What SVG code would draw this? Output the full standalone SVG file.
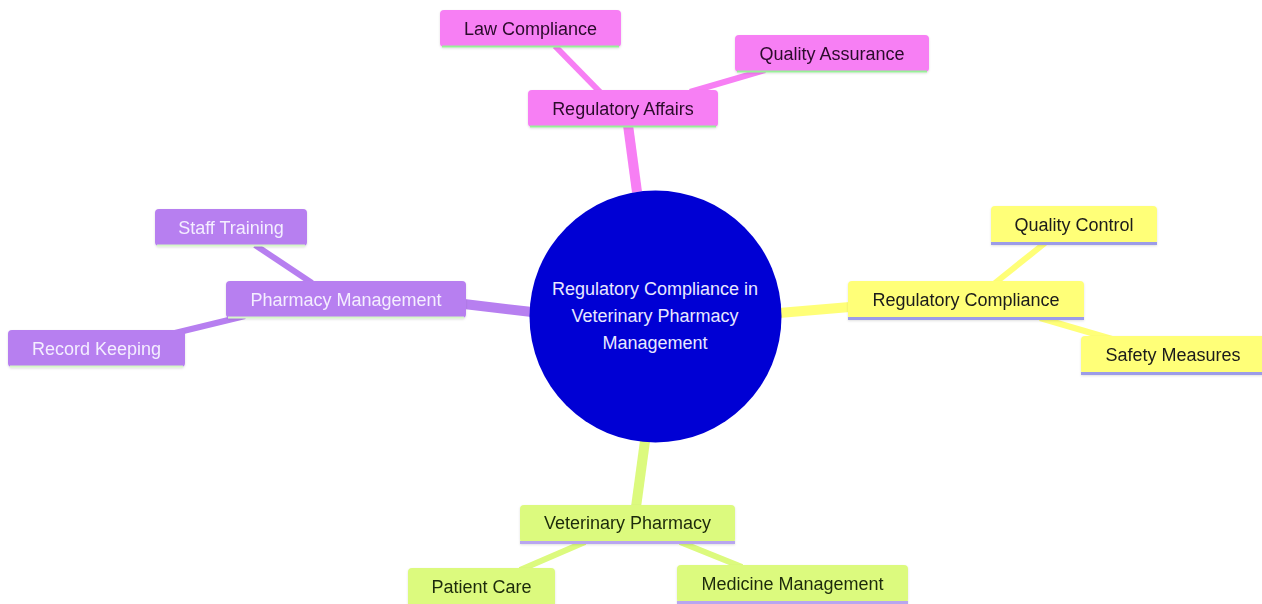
<svg xmlns="http://www.w3.org/2000/svg" width="1262" height="604" viewBox="0 0 1262 604">
<style>
text{font-family:"Liberation Sans",Arial,sans-serif;font-size:18px;text-anchor:middle;dominant-baseline:central}
.pk{fill:#f77ff4}.pu{fill:#b77ff0}.ye{fill:#ffff78}.gr{fill:#dcfa7e}
.lpk{stroke:#98f098}.lpu{stroke:#d6f6c8}.lye{stroke:#9c9ce8}.lgr{stroke:#b8a6f0}
.tpk{fill:#2a0a2a}.tpu{fill:#f4eeff}.tye{fill:#1a1a1a}.tgr{fill:#1c2a0a}
.e1{stroke-width:10;stroke-linecap:butt;fill:none}
.e2{stroke-width:6;stroke-linecap:butt;fill:none}
</style>
<defs>
<filter id="sh" x="-10%" y="-20%" width="120%" height="150%"><feDropShadow dx="0" dy="1" stdDeviation="1" flood-color="#000" flood-opacity="0.12"/></filter>
</defs>
<rect width="1262" height="604" fill="#ffffff"/>
<g id="connectors">
<line class="e1" x1="637" y1="192" x2="628" y2="125" stroke="#f77ff4"/>
<line class="e2" x1="600" y1="92" x2="555" y2="46" stroke="#f77ff4"/>
<line class="e2" x1="690" y1="92" x2="765" y2="70" stroke="#f77ff4"/>
<line class="e1" x1="532" y1="312" x2="464" y2="304" stroke="#b77ff0"/>
<line class="e2" x1="312" y1="283" x2="255" y2="245" stroke="#b77ff0"/>
<line class="e2" x1="245" y1="316" x2="175" y2="333" stroke="#b77ff0"/>
<line class="e1" x1="779" y1="313" x2="850" y2="307" stroke="#ffff78"/>
<line class="e2" x1="995" y1="283" x2="1045" y2="243" stroke="#ffff78"/>
<line class="e2" x1="1040" y1="318" x2="1112" y2="339" stroke="#ffff78"/>
<line class="e1" x1="645" y1="441" x2="636" y2="507" stroke="#dcfa7e"/>
<line class="e2" x1="585" y1="542" x2="520" y2="570" stroke="#dcfa7e"/>
<line class="e2" x1="680" y1="542" x2="742" y2="567" stroke="#dcfa7e"/>
</g>
<g id="root">
<circle cx="655.5" cy="316.5" r="126" fill="#0000d4"/>
<text x="655" y="289" fill="#e8e8ff">Regulatory Compliance in</text>
<text x="655" y="316" fill="#e8e8ff">Veterinary Pharmacy</text>
<text x="655" y="343" fill="#e8e8ff">Management</text>
</g>
<g id="regulatory-affairs" filter="url(#sh)">
<rect class="pk" x="528" y="90" width="190" height="37" rx="4"/>
<line class="lpk" x1="530" y1="126.5" x2="716" y2="126.5" stroke-width="2"/>
<text class="tpk" x="623" y="108.5">Regulatory Affairs</text>
</g>
<g id="law-compliance" filter="url(#sh)">
<rect class="pk" x="440" y="10" width="181" height="37" rx="4"/>
<line class="lpk" x1="442" y1="46.5" x2="619" y2="46.5" stroke-width="2"/>
<text class="tpk" x="530.5" y="28.5">Law Compliance</text>
</g>
<g id="quality-assurance" filter="url(#sh)">
<rect class="pk" x="735" y="35" width="194" height="37" rx="4"/>
<line class="lpk" x1="737" y1="71.5" x2="927" y2="71.5" stroke-width="2"/>
<text class="tpk" x="832" y="53.5">Quality Assurance</text>
</g>
<g id="pharmacy-management" filter="url(#sh)">
<rect class="pu" x="226" y="281" width="240" height="37" rx="4"/>
<line class="lpu" x1="228" y1="317.5" x2="464" y2="317.5" stroke-width="2"/>
<text class="tpu" x="346" y="299.5">Pharmacy Management</text>
</g>
<g id="staff-training" filter="url(#sh)">
<rect class="pu" x="155" y="209" width="152" height="37" rx="4"/>
<line class="lpu" x1="157" y1="245.5" x2="305" y2="245.5" stroke-width="2"/>
<text class="tpu" x="231" y="227.5">Staff Training</text>
</g>
<g id="record-keeping" filter="url(#sh)">
<rect class="pu" x="8" y="330" width="177" height="37" rx="4"/>
<line class="lpu" x1="10" y1="366.5" x2="183" y2="366.5" stroke-width="2"/>
<text class="tpu" x="96.5" y="348.5">Record Keeping</text>
</g>
<g id="regulatory-compliance" filter="url(#sh)">
<rect class="ye" x="848" y="281" width="236" height="38" rx="4"/>
<line class="lye" x1="848" y1="318.5" x2="1084" y2="318.5" stroke-width="3"/>
<text class="tye" x="966" y="299.5">Regulatory Compliance</text>
</g>
<g id="quality-control" filter="url(#sh)">
<rect class="ye" x="991" y="206" width="166" height="38" rx="4"/>
<line class="lye" x1="991" y1="243.5" x2="1157" y2="243.5" stroke-width="3"/>
<text class="tye" x="1074" y="225">Quality Control</text>
</g>
<g id="safety-measures" filter="url(#sh)">
<rect class="ye" x="1081" y="336" width="186" height="38" rx="4"/>
<line class="lye" x1="1081" y1="373.5" x2="1267" y2="373.5" stroke-width="3"/>
<text class="tye" x="1173" y="355">Safety Measures</text>
</g>
<g id="veterinary-pharmacy" filter="url(#sh)">
<rect class="gr" x="520" y="505" width="215" height="38" rx="4"/>
<line class="lgr" x1="520" y1="542.5" x2="735" y2="542.5" stroke-width="3"/>
<text class="tgr" x="627.5" y="523">Veterinary Pharmacy</text>
</g>
<g id="patient-care" filter="url(#sh)">
<rect class="gr" x="408" y="568" width="147" height="40" rx="4"/>
<text class="tgr" x="481.5" y="586.5">Patient Care</text>
</g>
<g id="medicine-management" filter="url(#sh)">
<rect class="gr" x="677" y="565" width="231" height="38" rx="4"/>
<line class="lgr" x1="677" y1="602.5" x2="908" y2="602.5" stroke-width="3"/>
<text class="tgr" x="792.5" y="584">Medicine Management</text>
</g>
</svg>
